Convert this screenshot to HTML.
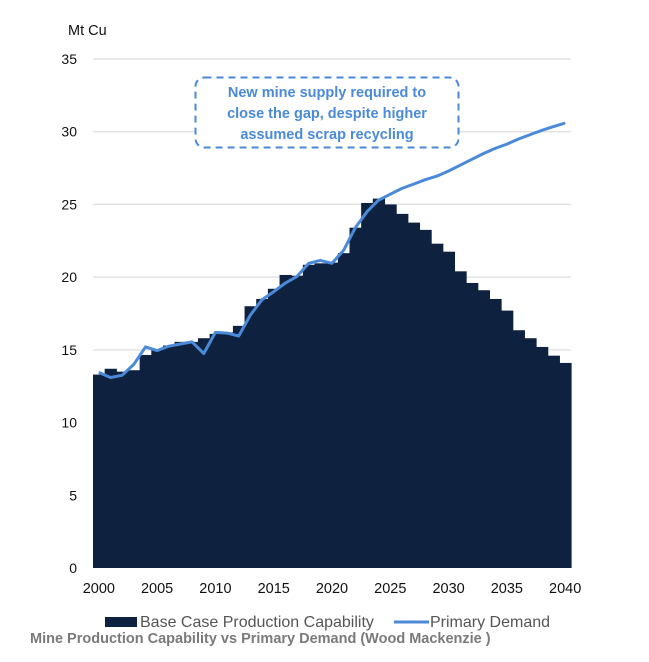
<!DOCTYPE html>
<html><head><meta charset="utf-8"><style>
html,body{margin:0;padding:0;background:#fff;}
svg{display:block;font-family:"Liberation Sans",sans-serif;}
</style></head><body>
<svg id="chart" width="649" height="662" viewBox="0 0 649 662">
<g id="grid"></g>
<g id="bars"></g>
<polyline id="demand" fill="none" stroke="#4a8ad9" stroke-width="3" stroke-linejoin="round"/>
<g id="yticks" font-size="14" fill="#111" text-anchor="end"></g>
<g id="xticks" font-size="14.5" fill="#111" text-anchor="middle"></g>
<text x="68" y="35" font-size="14.5" fill="#111">Mt Cu</text>
<g>
<rect x="195.5" y="77.5" width="263" height="70" rx="9" fill="#fff" stroke="#4a8ad9" stroke-width="2" stroke-dasharray="7,5"/>
<g font-size="14.5" font-weight="bold" fill="#4a8ad9" text-anchor="middle">
<text x="327" y="97">New mine supply required to</text>
<text x="327" y="118">close the gap, despite higher</text>
<text x="327" y="139">assumed scrap recycling</text>
</g></g>
<g>
<rect x="105" y="617" width="32" height="10" fill="#0e2240"/>
<text x="140" y="627" font-size="16" fill="#555">Base Case Production Capability</text>
<line x1="394" y1="622" x2="429" y2="622" stroke="#4a8ad9" stroke-width="3"/>
<text x="430" y="627" font-size="16" fill="#555">Primary Demand</text>
</g>
<text x="30" y="643" font-size="14.5" font-weight="bold" fill="#7a7a7a">Mine Production Capability vs Primary Demand (Wood Mackenzie )</text>
</svg>
<script>
const years = [];
for (let y = 2000; y <= 2040; y++) years.push(y);
const production = [13.3,13.7,13.5,13.6,14.65,15.0,15.3,15.55,15.55,15.8,16.1,16.2,16.65,18.0,18.5,19.2,20.15,20.1,20.85,20.95,21.0,21.65,23.4,25.1,25.4,25.0,24.35,23.75,23.25,22.3,21.75,20.4,19.6,19.1,18.5,17.7,16.35,15.8,15.2,14.6,14.1];
const demand = [13.45,13.1,13.25,14.0,15.2,14.95,15.25,15.4,15.55,14.75,16.2,16.15,15.95,17.4,18.45,19.0,19.6,20.05,20.95,21.15,20.95,21.85,23.4,24.5,25.3,25.7,26.1,26.4,26.7,26.95,27.3,27.7,28.1,28.5,28.85,29.15,29.5,29.8,30.1,30.35,30.6];
const yTicks = [0,5,10,15,20,25,30,35];
const xTickLabels = [2000,2005,2010,2015,2020,2025,2030,2035,2040];

const NS = "http://www.w3.org/2000/svg";
const x0 = 93, x1 = 571, yBase = 568, yTop = 59, yMax = 35;
const bw = (x1 - x0) / years.length;
const xLeft = i => x0 + bw * i;
const xCenter = i => x0 + bw * (i + 0.5);
const yS = v => yBase - (yBase - yTop) * v / yMax;

const grid = document.getElementById('grid');
const yt = document.getElementById('yticks');
yTicks.forEach(t => {
  if (t > 0) {
    const l = document.createElementNS(NS, 'line');
    l.setAttribute('x1', x0); l.setAttribute('x2', x1);
    l.setAttribute('y1', yS(t)); l.setAttribute('y2', yS(t));
    l.setAttribute('stroke', '#e3e3e3'); l.setAttribute('stroke-width', '1.5');
    
    
    grid.appendChild(l);
  }
  const tx = document.createElementNS(NS, 'text');
  tx.setAttribute('x', 77); tx.setAttribute('y', yS(t) + 5);
  tx.textContent = t;
  
  
  yt.appendChild(tx);
});

const bars = document.getElementById('bars');
production.forEach((v, i) => {
  const r = document.createElementNS(NS, 'rect');
  r.setAttribute('x', xLeft(i));
  r.setAttribute('width', bw + 0.6);
  r.setAttribute('y', yS(v));
  r.setAttribute('height', yBase - yS(v));
  r.setAttribute('fill', '#0e2240');
  
  
  bars.appendChild(r);
});

document.getElementById('demand').setAttribute('points',
  demand.map((v, i) => xCenter(i).toFixed(1) + ',' + yS(v).toFixed(1)).join(' '));

const xt = document.getElementById('xticks');
xTickLabels.forEach(y => {
  const i = years.indexOf(y);
  const tx = document.createElementNS(NS, 'text');
  tx.setAttribute('x', xCenter(i)); tx.setAttribute('y', 593);
  tx.textContent = y;
  
  
  xt.appendChild(tx);
});
</script>
</body></html>
